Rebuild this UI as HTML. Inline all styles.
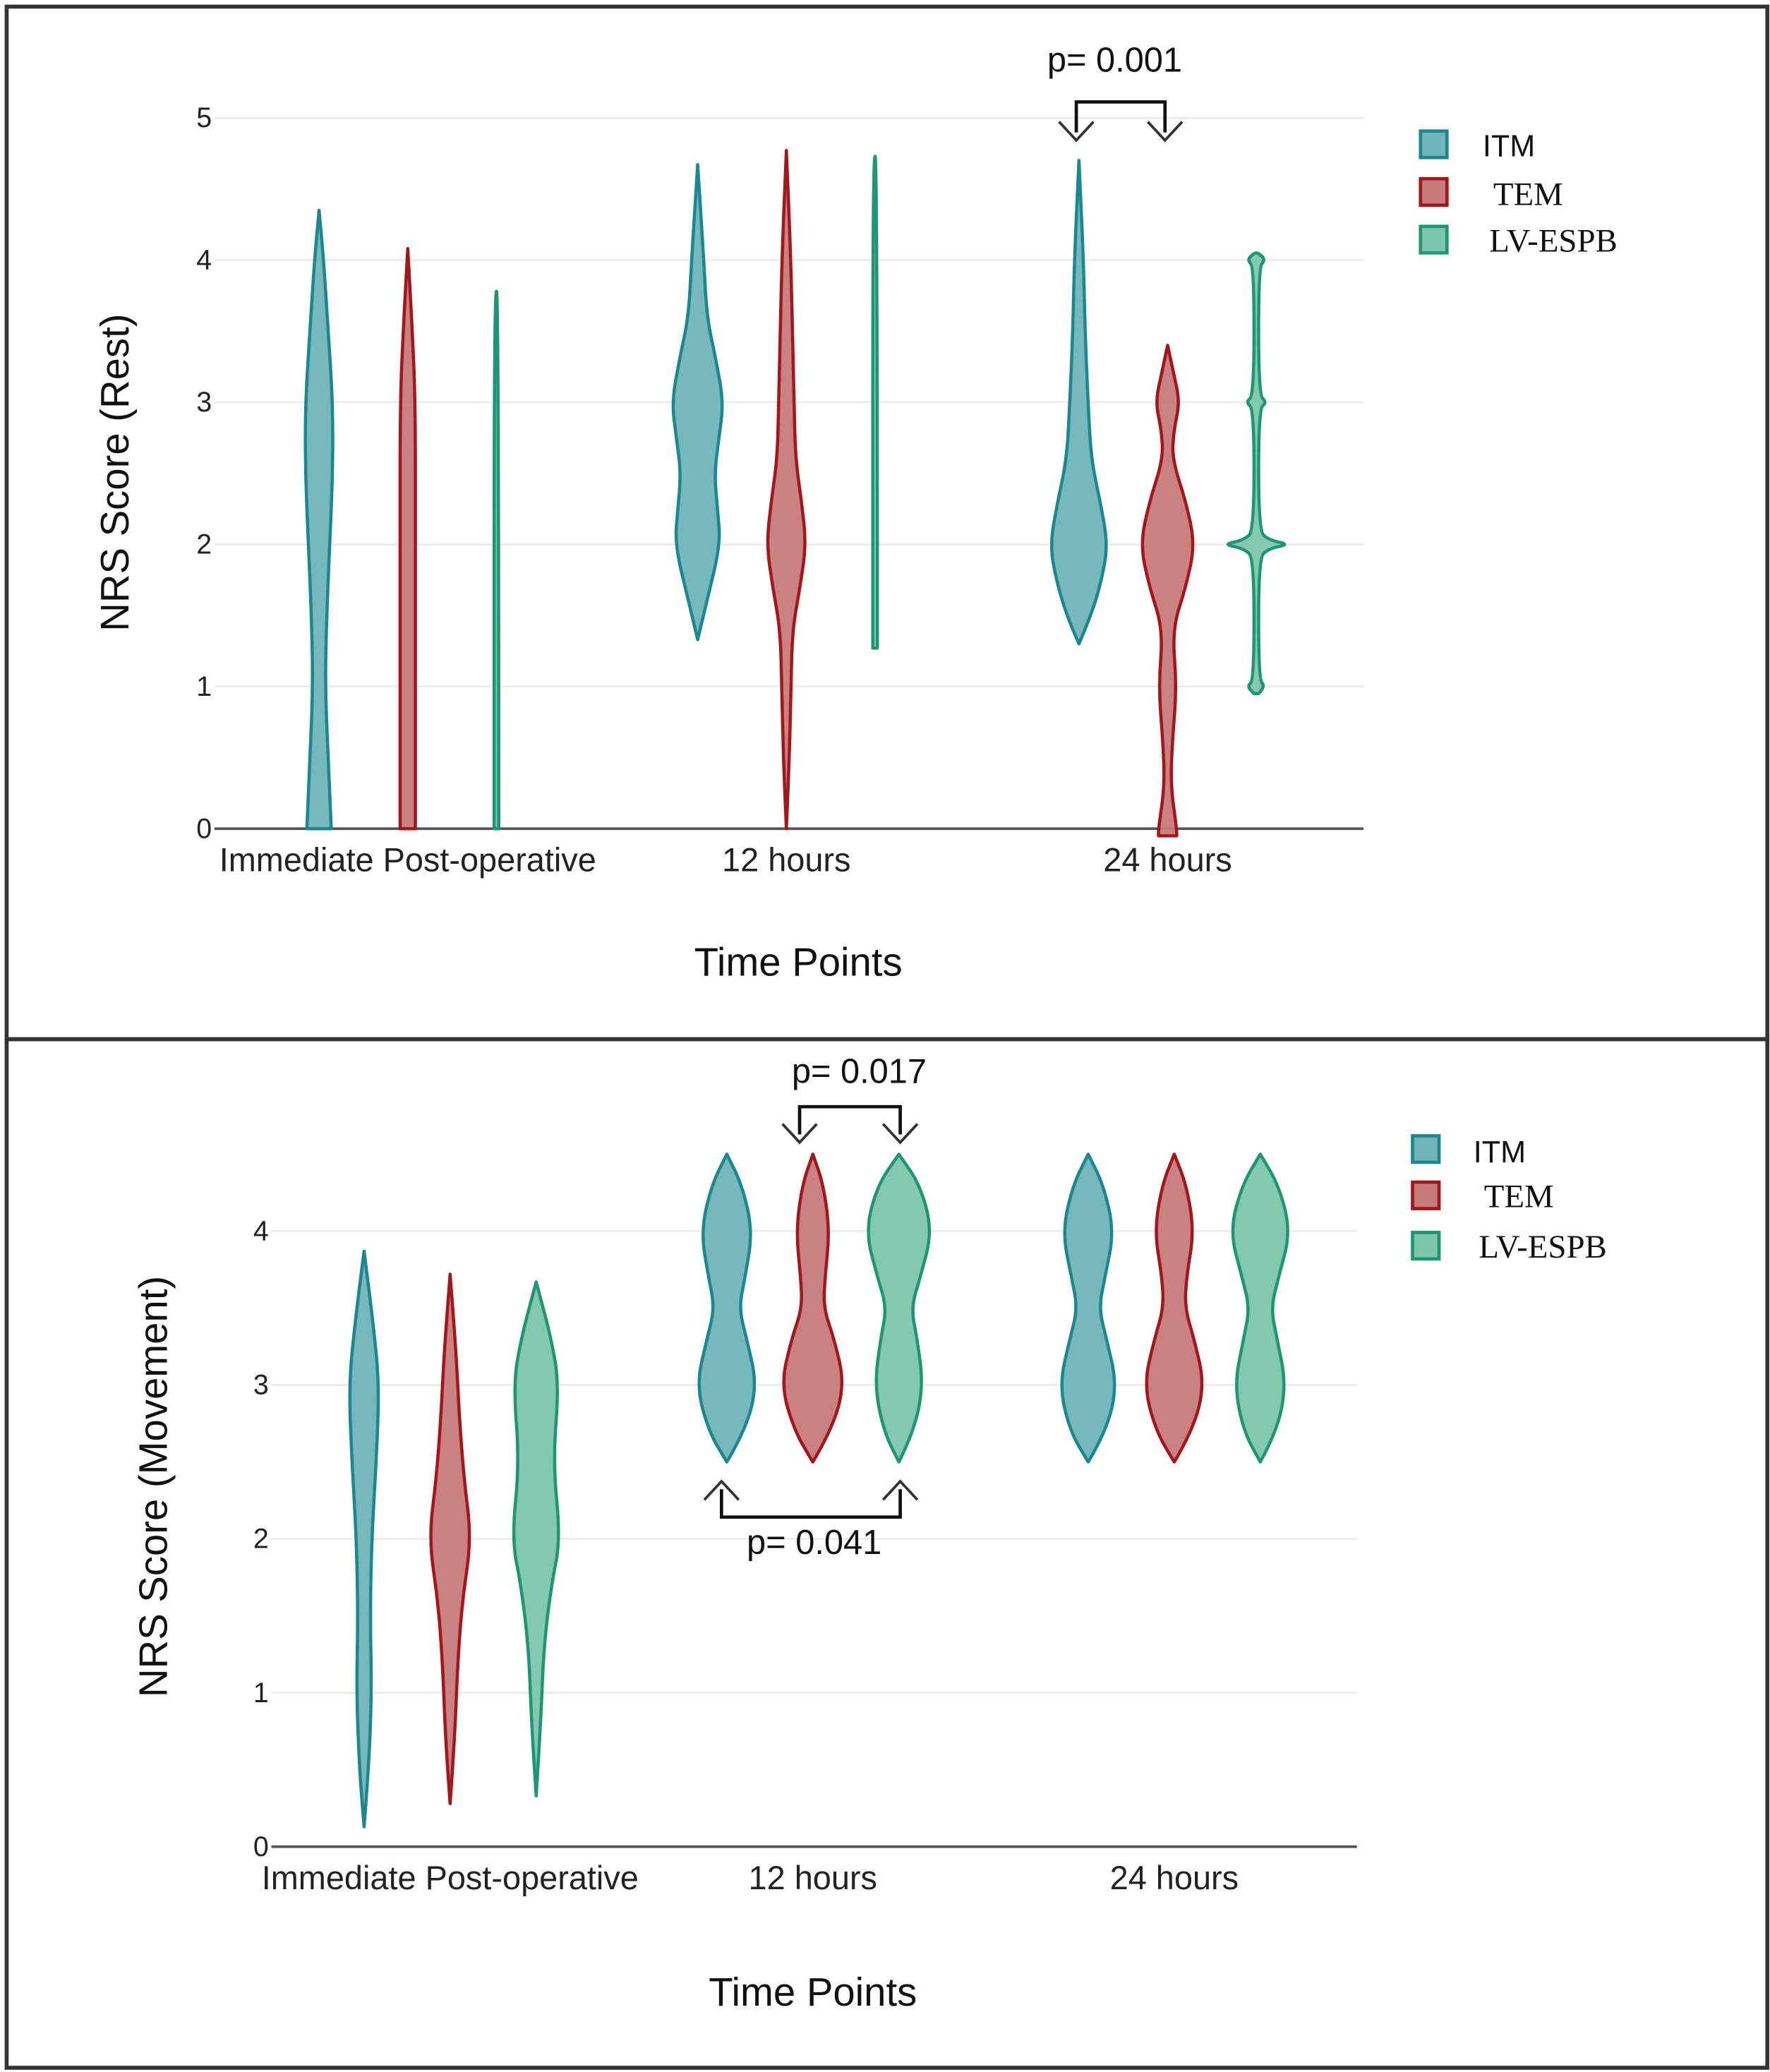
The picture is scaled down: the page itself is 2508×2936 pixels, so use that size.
<!DOCTYPE html>
<html><head><meta charset="utf-8">
<style>
html,body{margin:0;padding:0;background:#fff;}
svg{display:block;}
.tick{font-family:"Liberation Sans",sans-serif;font-size:21px;fill:#222;}
.xl{font-family:"Liberation Sans",sans-serif;font-size:25px;fill:#222;}
.ttl{font-family:"Liberation Sans",sans-serif;font-size:30px;fill:#111;}
.pv{font-family:"Liberation Sans",sans-serif;font-size:26px;fill:#111;}
.lgs{font-family:"Liberation Sans",sans-serif;font-size:23px;fill:#111;}
.lgr{font-family:"Liberation Serif",serif;font-size:25px;fill:#111;}
</style></head>
<body>
<svg id="chart" width="2508" height="2936" viewBox="0 0 1337 1565.2" xmlns="http://www.w3.org/2000/svg">
<rect x="0" y="0" width="1337" height="1565.2" fill="#fff"/>
<rect x="5" y="5" width="1330" height="780" fill="none" stroke="#333" stroke-width="3"/>
<rect x="5" y="785" width="1330" height="777" fill="none" stroke="#333" stroke-width="3"/>
<g id="top"></g>
<g id="bot"></g>

<text class="ttl" transform="translate(97,357) rotate(-90)" text-anchor="middle">NRS Score (Rest)</text>
<text class="ttl" x="603" y="737" text-anchor="middle">Time Points</text>
<text class="ttl" transform="translate(126,1123) rotate(-90)" text-anchor="middle">NRS Score (Movement)</text>
<text class="ttl" x="614" y="1515" text-anchor="middle">Time Points</text>

<g>
<rect x="1073" y="99" width="20" height="20" fill="#6fb4b8" stroke="#1b8790" stroke-width="2.5"/>
<text class="lgs" x="1120" y="118">ITM</text>
<rect x="1073" y="135" width="20" height="20" fill="#c77a7a" stroke="#a3161c" stroke-width="2.5"/>
<text class="lgr" x="1128" y="155">TEM</text>
<rect x="1073" y="171" width="20" height="20" fill="#7cc6ab" stroke="#1e9674" stroke-width="2.5"/>
<text class="lgr" x="1125" y="190">LV-ESPB</text>
</g>
<g>
<rect x="1067" y="858" width="20" height="20" fill="#6fb4b8" stroke="#1b8790" stroke-width="2.5"/>
<text class="lgs" x="1113" y="878">ITM</text>
<rect x="1067" y="893" width="20" height="20" fill="#c77a7a" stroke="#a3161c" stroke-width="2.5"/>
<text class="lgr" x="1121" y="912">TEM</text>
<rect x="1067" y="931" width="20" height="20" fill="#7cc6ab" stroke="#1e9674" stroke-width="2.5"/>
<text class="lgr" x="1117" y="950">LV-ESPB</text>
</g>

<g fill="none" stroke="#333" stroke-width="2">
<path d="M813,100 V77 H880 V100" stroke="#111" stroke-width="2.5"/>
<path d="M800,92 L813,106 L826,92 M867,92 L880,106 L893,92"/>
</g>
<text class="pv" x="842" y="54" text-anchor="middle">p= 0.001</text>
<g fill="none" stroke="#333" stroke-width="2">
<path d="M604,857 V836 H680 V857" stroke="#111" stroke-width="2.5"/>
<path d="M591,849 L604,863 L617,849 M667,849 L680,863 L693,849"/>
</g>
<text class="pv" x="649" y="818" text-anchor="middle">p= 0.017</text>
<g fill="none" stroke="#333" stroke-width="2">
<path d="M545,1125 V1146 H680 V1125" stroke="#111" stroke-width="2.5"/>
<path d="M532,1133 L545,1119 L558,1133 M667,1133 L680,1119 L693,1133"/>
</g>
<text class="pv" x="615" y="1174" text-anchor="middle">p= 0.041</text>
</svg>
<script>
const categories = ["Immediate Post-operative", "12 hours", "24 hours"];
const groups = ["ITM", "TEM", "LV-ESPB"];
const restTicks = [0, 1, 2, 3, 4, 5];
const moveTicks = [0, 1, 2, 3, 4];
const rImmItmV = [0, 0.5, 1, 1.5, 2, 2.5, 3, 3.5, 4, 4.35];
const rImmItmD = [8, 6, 4, 5, 7, 9, 9, 6, 3, 0];
const rImmTemV = [0, 1, 2, 3, 3.5, 4.08];
const rImmTemD = [5, 5, 5, 5, 3, 0];
const rImmLvV = [0, 3.78];
const rImmLvD = [1.5, 1.5];
const r12ItmV = [1.33, 1.6, 2, 2.25, 2.5, 2.75, 3, 3.3, 3.6, 4, 4.67];
const r12ItmD = [0, 6, 15, 13, 11, 14, 17, 12, 6, 4, 0];
const r12TemV = [0, 0.5, 1, 1.4, 1.7, 2, 2.3, 2.6, 3, 4, 4.77];
const r12TemD = [0, 2, 3, 4, 9, 13, 10, 6, 5, 3, 0];
const r12LvV = [1.27, 4.73];
const r12LvD = [1.5, 1.5];
const r24ItmV = [1.3, 1.5, 1.75, 2, 2.3, 2.6, 3, 3.5, 4, 4.7];
const r24ItmD = [0, 8, 15, 19, 14, 8, 6, 4, 3, 0];
const r24TemV = [-0.05, 0, 0.3, 0.6, 1, 1.4, 1.7, 2, 2.3, 2.6, 2.8, 3, 3.2, 3.4];
const r24TemD = [6, 6, 2, 3, 6, 3, 12, 18, 12, 3, 4, 8, 4, 0];
const r24LvV = [0.95, 1, 1.05, 1.9, 1.97, 2, 2.03, 2.1, 2.95, 3, 3.05, 3.95, 4, 4.05];
const r24LvD = [1.5, 6, 1.5, 1.5, 8, 22, 8, 1.5, 1.5, 7, 1.5, 1.5, 6, 1.5];
const mImmItmV = [0.13, 0.5, 1, 1.5, 2, 2.5, 3, 3.4, 3.87];
const mImmItmD = [0, 3, 5, 4, 5, 8, 10, 6, 0];
const mImmTemV = [0.28, 0.7, 1.2, 1.6, 2, 2.4, 2.8, 3.2, 3.72];
const mImmTemD = [0, 3, 5, 8, 14, 9, 6, 4, 0];
const mImmLvV = [0.33, 0.8, 1.3, 1.7, 2, 2.5, 3, 3.3, 3.67];
const mImmLvD = [0, 3, 5, 10, 16, 11, 15, 10, 0];
const m12ItmV = [2.5, 2.7, 3, 3.3, 3.5, 3.7, 4, 4.3, 4.5];
const m12ItmD = [0, 12, 20, 13, 8, 12, 17, 10, 0];
const m12TemV = [2.5, 2.7, 3, 3.3, 3.5, 3.7, 4, 4.3, 4.5];
const m12TemD = [0, 12, 21, 14, 7, 8, 11, 7, 0];
const m12LvV = [2.5, 2.7, 3, 3.3, 3.5, 3.7, 4, 4.3, 4.5];
const m12LvD = [0, 10, 16, 12, 8, 14, 22, 14, 0];
const m24ItmV = [2.5, 2.7, 3, 3.3, 3.5, 3.7, 4, 4.3, 4.5];
const m24ItmD = [0, 12, 19, 12, 7, 11, 17, 10, 0];
const m24TemV = [2.5, 2.7, 3, 3.3, 3.5, 3.7, 4, 4.3, 4.5];
const m24TemD = [0, 12, 20, 13, 7, 8, 13, 8, 0];
const m24LvV = [2.5, 2.7, 3, 3.3, 3.5, 3.7, 4, 4.3, 4.5];
const m24LvD = [0, 11, 17, 11, 7, 12, 20, 12, 0];

const restSets = [[rImmItmV,rImmItmD],[rImmTemV,rImmTemD],[rImmLvV,rImmLvD],
  [r12ItmV,r12ItmD],[r12TemV,r12TemD],[r12LvV,r12LvD],
  [r24ItmV,r24ItmD],[r24TemV,r24TemD],[r24LvV,r24LvD]];
const moveSets = [[mImmItmV,mImmItmD],[mImmTemV,mImmTemD],[mImmLvV,mImmLvD],
  [m12ItmV,m12ItmD],[m12TemV,m12TemD],[m12LvV,m12LvD],
  [m24ItmV,m24ItmD],[m24TemV,m24TemD],[m24LvV,m24LvD]];

const NS = "http://www.w3.org/2000/svg";
const strokes = ["#1b8790", "#a3161c", "#1e9674"];
const fills = ["#6fb4b8", "#c77a7a", "#7cc6ab"];
function mk(parent, tag, attrs) {
  const e = document.createElementNS(NS, tag);
  for (const k in attrs) e.setAttribute(k, attrs[k]);
  parent.appendChild(e);
  return e;
}
function smooth(pts) {
  let d = "M" + pts[0][0].toFixed(2) + "," + pts[0][1].toFixed(2);
  for (let i = 1; i < pts.length - 1; i++) {
    const mx = (pts[i][0] + pts[i + 1][0]) / 2, my = (pts[i][1] + pts[i + 1][1]) / 2;
    d += " Q" + pts[i][0].toFixed(2) + "," + pts[i][1].toFixed(2) + " " + mx.toFixed(2) + "," + my.toFixed(2);
  }
  const l = pts[pts.length - 1];
  d += " L" + l[0].toFixed(2) + "," + l[1].toFixed(2);
  return d;
}
function drawPanel(g, cfg, ticks, sets) {
  const y = v => cfg.y0 - v * cfg.unit;
  const x = (ci, gi) => cfg.cx[ci] + (gi - 1) * cfg.gap;
  ticks.forEach(t => {
    const gl = mk(g, "line", {x1: cfg.xl, x2: cfg.xr, y1: y(t), y2: y(t), stroke: t === 0 ? "#555" : "#ececec", "stroke-width": t === 0 ? 2 : 1.5});
    
    
    const tl = mk(g, "text", {x: cfg.xl - 2, y: y(t) + 7, "text-anchor": "end", class: "tick"});
    tl.textContent = t;
    
    
  });
  categories.forEach((c, ci) => {
    const tl = mk(g, "text", {x: cfg.cx[ci], y: cfg.y0 + 32, "text-anchor": "middle", class: "xl"});
    tl.textContent = c;
    
    
  });
  sets.forEach((s, i) => {
    const ci = Math.floor(i / 3), gi = i % 3;
    const cx = x(ci, gi);
    const vals = s[0], dens = s[1];
    const right = vals.map((v, k) => [cx + dens[k] * cfg.k, y(v)]);
    const left = vals.map((v, k) => [cx - dens[k] * cfg.k, y(v)]).reverse();
    const pts = right.concat(left);
    const p = mk(g, "path", {d: smooth(pts) + " Z", fill: fills[gi], "fill-opacity": 0.95, stroke: strokes[gi], "stroke-width": 2.4, "stroke-linejoin": "round"});
    
    
  });
}
drawPanel(document.getElementById("top"),
  {y0: 626, unit: 107.4, xl: 162, xr: 1030, cx: [308, 594, 882], gap: 67, k: 1.15}, restTicks, restSets);
drawPanel(document.getElementById("bot"),
  {y0: 1395, unit: 116.25, xl: 205, xr: 1025, cx: [340, 614, 887], gap: 65, k: 1.15}, moveTicks, moveSets);
</script>
</body></html>
